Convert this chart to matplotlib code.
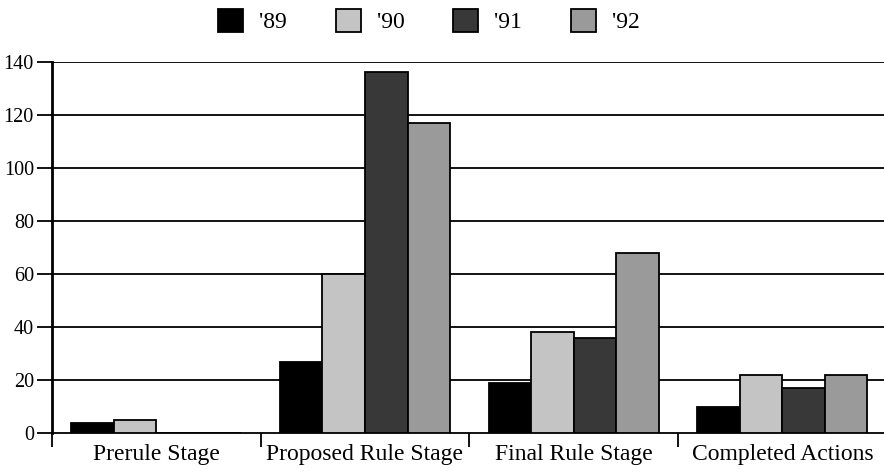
import numpy as np
import matplotlib
matplotlib.use('Agg')
import matplotlib.pyplot as plt
from matplotlib.patches import Patch

# 数据
categories = ['Prerule Stage', 'Proposed Rule Stage', 'Final Rule Stage', 'Completed Actions']
years = ["'89", "'90", "'91", "'92"]
values_89 = [4, 27, 19, 10]
values_90 = [5, 60, 38, 22]
values_91 = [0, 136, 36, 17]
values_92 = [0, 117, 68, 22]
y_ticks = [0, 20, 40, 60, 80, 100, 120, 140]

colors = ['#000000', '#c4c4c4', '#383838', '#9a9a9a']

plt.rcParams['font.family'] = ['Liberation Serif', 'DejaVu Serif']

fig = plt.figure(figsize=(8.84, 4.72), dpi=100)
ax = fig.add_axes([52 / 884, 1 - 433.3 / 472, 1 - 52 / 884 + 0.003, (433.3 - 61.7) / 472])

series = [values_89, values_90, values_91, values_92]
bar_w = 0.204
x = np.arange(len(categories))
for i, vals in enumerate(series):
    offs = 0.5 + (i - 1.5) * bar_w
    ax.bar(x + offs, vals, width=bar_w, color=colors[i], edgecolor='black',
           linewidth=1.3, zorder=3)

ax.set_xlim(0, 4)
ax.set_ylim(0, 140)
ax.set_yticks(y_ticks)
ax.set_yticklabels([str(t) for t in y_ticks], fontsize=14.5)
for t in y_ticks[1:]:
    ax.axhline(t, color='black', linewidth=1.3, zorder=1)

ax.set_xticks([0, 1, 2, 3])
ax.set_xticklabels([])
ax.set_xticks(x + 0.5, minor=True)
ax.set_xticklabels(categories, minor=True, fontsize=17)
ax.tick_params(axis='x', which='minor', length=0, pad=8)
ax.tick_params(axis='x', which='major', length=10, width=1.3, direction='out')
ax.tick_params(axis='y', length=11, width=1.3, pad=2)

for s in ['top', 'right']:
    ax.spines[s].set_visible(False)
ax.spines['left'].set_linewidth(2)
ax.spines['bottom'].set_linewidth(1.3)

# 图例
handles = [Patch(facecolor=c, edgecolor='black', linewidth=1.3) for c in colors]
fig.legend(handles, years, loc='center left', bbox_to_anchor=(218 / 884, 1 - 21 / 472), ncol=4,
           frameon=False, fontsize=17, handlelength=1.06, handleheight=1.15,
           handletextpad=0.68, columnspacing=2.07, borderpad=0, borderaxespad=0)

fig.savefig('out.png', dpi=100)
